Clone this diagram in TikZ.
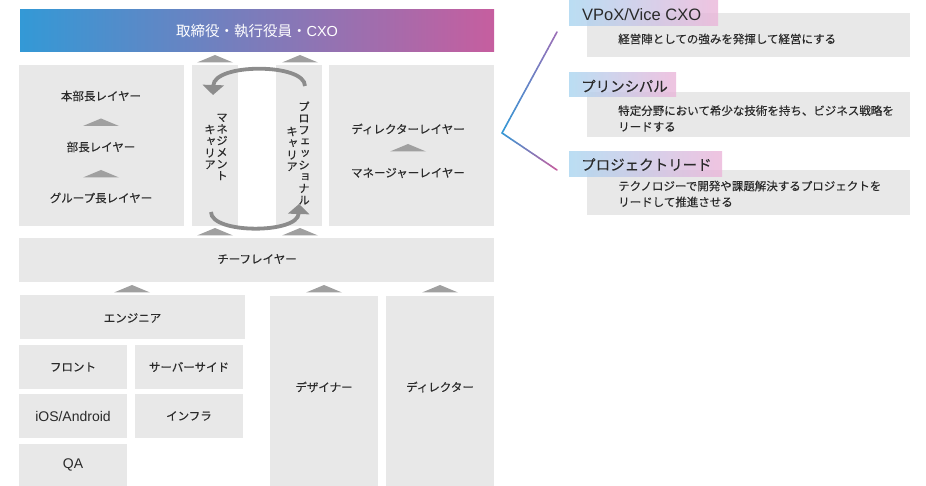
\documentclass[tikz,border=0pt]{standalone}
\usepackage{fontspec}
\setmainfont{Liberation Sans}
\newfontfamily\jp[FakeBold=0.2]{Noto Sans CJK JP}
\newfontfamily\jpr{Noto Sans CJK JP}
\newfontfamily\jpv[RawFeature=+vert,FakeBold=0.2]{Noto Sans CJK JP}
\usetikzlibrary{arrows.meta,calc}
\definecolor{boxg}{HTML}{E8E8E8}
\definecolor{trig}{HTML}{A0A0A0}
\definecolor{arrg}{HTML}{8C8C8C}
\definecolor{txtc}{HTML}{2A2A2A}
\definecolor{gblue}{HTML}{3399D6}
\definecolor{gpink}{HTML}{C65E9F}
\definecolor{vpurp}{HTML}{9C6EB6}
\definecolor{lblue}{HTML}{A9D5F0}
\definecolor{lpink}{HTML}{EBB5D9}
\tikzset{
  gbox/.style={fill=boxg},
  jtxt/.style={text=txtc, inner sep=0pt, font=\jp\fontsize{11.5}{13}\selectfont},
  ltxt/.style={text=txtc, inner sep=0pt, font=\fontsize{14}{16}\selectfont},
  vtxt/.style={text=txtc, inner sep=0pt, align=center, font=\jpv\fontsize{11.5}{11.7}\selectfont},
  dtxt/.style={text=txtc, inner sep=0pt, anchor=west, align=left, font=\jp\fontsize{11.5}{16}\selectfont},
  ttl/.style={text=txtc, inner sep=0pt, anchor=west},
  lblbox/.style={left color=lblue, right color=lpink, fill opacity=0.8},
  arr/.style={draw=arrg, line width=3.8pt, -{Triangle[width=21pt,length=10pt]}},
  uptri/.pic={\fill[trig] (-18,7.5) -- (0,0) -- (18,7.5) -- cycle;}
}
\begin{document}
\begin{tikzpicture}[x=1pt,y=-1pt]
\useasboundingbox (0,0) rectangle (926,486);
% top bar
\shade[left color=gblue, right color=gpink] (20,10) rectangle (494,52);
\node[text=white, inner sep=0pt, font=\fontsize{14.5}{16}\selectfont] (top) at (257,31) {{\jpr 取締役・執行役員・}CXO};
% upper row boxes
\fill[gbox] (19,65) rectangle (184,226);
\fill[gbox] (192,65) rectangle (238,226);
\fill[gbox] (276,65) rectangle (322,226);
\fill[gbox] (329,65) rectangle (494,226);
\pic at (215,55) {uptri};
\pic at (300,55) {uptri};
\pic at (215,228) {uptri};
\pic at (300,228) {uptri};
% left block
\node[jtxt] (l1) at (101,96) {本部長レイヤー};
\pic at (101,118.5) {uptri};
\node[jtxt] (l2) at (101,147) {部長レイヤー};
\pic at (101,170) {uptri};
\node[jtxt] (l3) at (101,198) {グループ長レイヤー};
% right block
\node[jtxt] (r1) at (408,129) {ディレクターレイヤー};
\pic at (408,144) {uptri};
\node[jtxt] (r2) at (408,173) {マネージャーレイヤー};
% vertical texts
\node[vtxt] (mc1) at (222,147) {マ\\ネ\\ジ\\メ\\ン\\ト};
\node[vtxt] (mc2) at (210,147) {キ\\ャ\\リ\\ア};
\node[vtxt] (pc1) at (304,153) {プ\\ロ\\フ\\ェ\\ッ\\シ\\ョ\\ナ\\ル};
\node[vtxt] (pc2) at (292,149) {キ\\ャ\\リ\\ア};
% curved arrows
\coordinate (a1s) at (305,86);
\coordinate (a1a) at (305,63);
\coordinate (a1b) at (214,63);
\coordinate (a1e) at (213,95);
\draw[arr] (a1s) .. controls (a1a) and (a1b) .. (a1e);
\coordinate (a2s) at (211,212);
\coordinate (a2a) at (211,234);
\coordinate (a2b) at (298,234);
\coordinate (a2e) at (299,204);
\draw[arr] (a2s) .. controls (a2a) and (a2b) .. (a2e);
% team layer
\fill[gbox] (19,238) rectangle (494,282);
\node[jtxt] (team) at (257,259) {チーフレイヤー};
\pic at (132,285) {uptri};
\pic at (324,285) {uptri};
\pic at (440,285) {uptri};
% engineers
\fill[gbox] (20,295) rectangle (245,339);
\node[jtxt] (eng) at (132.5,318) {エンジニア};
\fill[gbox] (19,345) rectangle (127,389);
\node[jtxt] (front) at (73,367) {フロント};
\fill[gbox] (135,345) rectangle (243,389);
\node[jtxt] (server) at (189,367) {サーバーサイド};
\fill[gbox] (19,394) rectangle (127,438);
\node[ltxt] (ios) at (73,416) {iOS/Android};
\fill[gbox] (135,394) rectangle (243,438);
\node[jtxt] (infra) at (189,416) {インフラ};
\fill[gbox] (19,444) rectangle (127,486);
\node[ltxt] (qa) at (73,465) {QA};
% designer / director
\fill[gbox] (270,296) rectangle (378,486);
\node[jtxt] (des) at (324,387) {デザイナー};
\fill[gbox] (386,296) rectangle (494,486);
\node[jtxt] (dir) at (440,387) {ディレクター};
% V connector
\coordinate (vt) at (557,32);
\coordinate (vc) at (502,133);
\coordinate (vb) at (557,170);
\foreach \i in {0,...,29} {
  \pgfmathsetmacro\pct{100*(\i+0.5)/30}
  \draw[line width=1.6pt, line cap=round, color=vpurp!\pct!gblue] ($(vc)!{\i/30}!(vt)$) -- ($(vc)!{(\i+1)/30}!(vt)$);
  \draw[line width=1.6pt, line cap=round, color=gpink!\pct!gblue] ($(vc)!{\i/30}!(vb)$) -- ($(vc)!{(\i+1)/30}!(vb)$);
}
% right descriptions
\fill[gbox] (587,13) rectangle (910,57);
\fill[gbox] (587,92) rectangle (910,137);
\fill[gbox] (587,170) rectangle (910,215);
\shade[lblbox] (569,0) rectangle (718,26);
\shade[lblbox] (569,73) rectangle (676,97);
\shade[lblbox] (569,152) rectangle (722,177);
\node[ttl, font=\fontsize{16.5}{18}\selectfont] (t1) at (582,14.5) {VPoX/Vice CXO};
\node[ttl, font=\jp\fontsize{14.5}{17}\selectfont] (t2) at (581,86) {プリンシパル};
\node[ttl, font=\jp\fontsize{14.5}{17}\selectfont] (t3) at (581,164.5) {プロジェクトリード};
\node[dtxt] (d1) at (618,39) {経営陣としての強みを発揮して経営にする};
\node[dtxt] (d2) at (618,118.5) {特定分野において希少な技術を持ち、ビジネス戦略を\\リードする};
\node[dtxt] (d3) at (618,194) {テクノロジーで開発や課題解決するプロジェクトを\\リードして推進させる};
\end{tikzpicture}
\end{document}
